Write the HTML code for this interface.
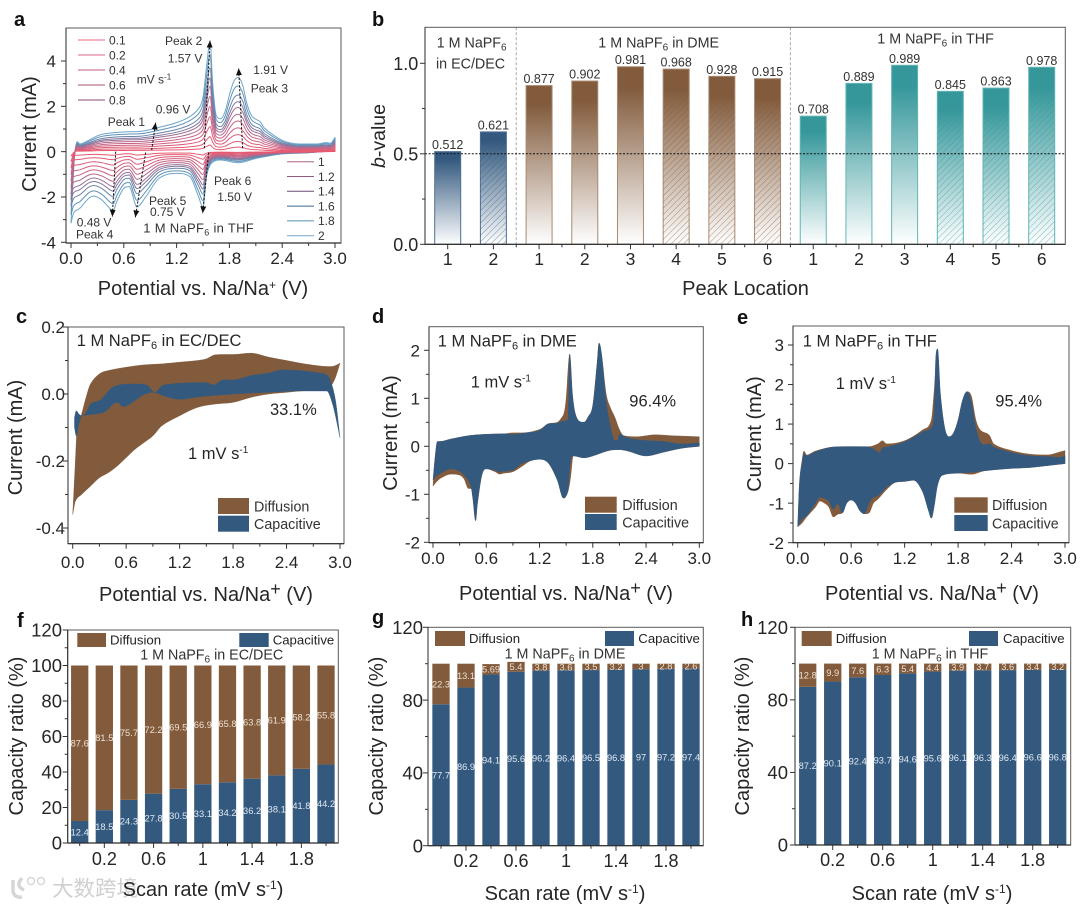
<!DOCTYPE html>
<html lang="en">
<head>
<meta charset="utf-8">
<title>Sodium electrolyte CV and capacity analysis</title>
<style>
  html, body { margin: 0; padding: 0; background: #fff; }
  svg { display: block; }
  text { font-family: "Liberation Sans", "Noto Sans CJK SC", sans-serif; fill: #262626; }
  .ax { font-size: 20px; }
  .pl { font-size: 20px; font-weight: bold; fill: #111; }
  .an { font-size: 12px; fill: #333; }
  .ti { font-size: 16.5px; }
  .tf { font-size: 14.3px; fill: #333; }
  .lg { font-size: 14.3px; fill: #333; }
  .ls { font-size: 13.2px; fill: #222; }
</style>
</head>
<body>
<svg id="figure" xmlns="http://www.w3.org/2000/svg" width="1080" height="908" viewBox="0 0 1080 908">
  <defs>
    <linearGradient id="grad-blue" x1="0" y1="0" x2="0" y2="1"><stop offset="0" stop-color="#34597f"/><stop offset="0.08" stop-color="#34597f"/><stop offset="1" stop-color="#ffffff"/></linearGradient>
    <linearGradient id="grad-brown" x1="0" y1="0" x2="0" y2="1"><stop offset="0" stop-color="#825b3c"/><stop offset="0.12" stop-color="#825b3c"/><stop offset="1" stop-color="#ffffff"/></linearGradient>
    <linearGradient id="grad-teal" x1="0" y1="0" x2="0" y2="1"><stop offset="0" stop-color="#35979a"/><stop offset="0.12" stop-color="#35979a"/><stop offset="1" stop-color="#ffffff"/></linearGradient>
    <pattern id="hatch-blue" patternUnits="userSpaceOnUse" width="4.4" height="4.4" patternTransform="rotate(45)"><line x1="0" y1="0" x2="0" y2="4.4" stroke="#34597f" stroke-width="0.9"/></pattern>
    <pattern id="hatch-brown" patternUnits="userSpaceOnUse" width="4.4" height="4.4" patternTransform="rotate(45)"><line x1="0" y1="0" x2="0" y2="4.4" stroke="#825b3c" stroke-width="0.9"/></pattern>
    <pattern id="hatch-teal" patternUnits="userSpaceOnUse" width="4.4" height="4.4" patternTransform="rotate(45)"><line x1="0" y1="0" x2="0" y2="4.4" stroke="#35979a" stroke-width="0.9"/></pattern>
    <marker id="arrow-head" markerUnits="userSpaceOnUse" markerWidth="8" markerHeight="6" refX="7" refY="3" orient="auto"><path d="M0,0 L7,3 L0,6 Z" fill="#111"/></marker>
  </defs>
  <rect width="1080" height="908" fill="#ffffff"/>

  <!-- Watermark -->
  <g opacity="0.85">
    <path d="M13 880 L13 892 Q15 898 22 897 M22 878 Q15 886 24 890" fill="none" stroke="#d0d0d0" stroke-width="3.5"/>
    <circle cx="31" cy="881" r="3.5" fill="none" stroke="#d0d0d0" stroke-width="1.5"/>
    <circle cx="41" cy="881" r="3.5" fill="none" stroke="#d0d0d0" stroke-width="1.5"/>
    <text x="52" y="896" font-size="21.5" style="fill:#c8c8c8">大数跨境</text>
  </g>

  <!-- Panel a -->
  <g id="panel-a">
    <g id="a-plot"></g>
    <text class="pl" x="14" y="26">a</text>
    <text class="ax" x="203" y="295" text-anchor="middle">Potential vs. Na/Na<tspan dy="-6" font-size="12">+</tspan><tspan dy="6"> (V)</tspan></text>
    <text class="ax" text-anchor="middle" transform="translate(36,134) rotate(-90)">Current (mA)</text>
    <text class="an" x="165" y="45">Peak 2</text>
    <text class="an" x="167.7" y="62.3">1.57 V</text>
    <text class="an" x="253.3" y="74">1.91 V</text>
    <text class="an" x="250.7" y="92.7">Peak 3</text>
    <text class="an" x="155.7" y="113.3">0.96 V</text>
    <text class="an" x="107.7" y="126">Peak 1</text>
    <text class="an" x="136.7" y="83.3">mV s<tspan dy="-4" font-size="8">-1</tspan></text>
    <text class="an" x="214" y="185">Peak 6</text>
    <text class="an" x="217.3" y="201">1.50 V</text>
    <text class="an" x="149" y="205">Peak 5</text>
    <text class="an" x="150" y="216">0.75 V</text>
    <text class="an" x="76.7" y="226.7">0.48 V</text>
    <text class="an" x="76" y="238.3">Peak 4</text>
    <text class="an" x="143.3" y="232.3" style="font-size:13px" letter-spacing="0.3">1 M NaPF<tspan dy="3" font-size="9">6</tspan><tspan dy="-3"> in THF</tspan></text>
  </g>

  <!-- Panel b -->
  <g id="panel-b">
    <g id="b-plot"></g>
    <text class="pl" x="372" y="26">b</text>
    <text x="745.5" y="295" text-anchor="middle" font-size="20">Peak Location</text>
    <text transform="translate(385,136) rotate(-90)" text-anchor="middle" font-size="19.5"><tspan font-style="italic">b</tspan>-value</text>
    <text class="tf" x="436.7" y="47.7">1 M NaPF<tspan dy="3" font-size="10">6</tspan></text>
    <text class="tf" x="436" y="68.3">in EC/DEC</text>
    <text class="tf" x="598.3" y="47.7">1 M NaPF<tspan dy="3" font-size="10">6</tspan><tspan dy="-3"> in DME</tspan></text>
    <text class="tf" x="877.3" y="43.3">1 M NaPF<tspan dy="3" font-size="10">6</tspan><tspan dy="-3"> in THF</tspan></text>
  </g>

  <!-- Panel c -->
  <g id="panel-c">
    <g id="c-plot"></g>
    <text class="pl" x="16" y="323">c</text>
    <text class="ax" x="206" y="601" text-anchor="middle">Potential vs. Na/Na<tspan dy="-6" font-size="18">+</tspan><tspan dy="6"> (V)</tspan></text>
    <text class="ax" text-anchor="middle" transform="translate(22,437.5) rotate(-90)">Current (mA)</text>
    <text class="ti" x="76.7" y="346">1 M NaPF<tspan dy="3" font-size="11">6</tspan><tspan dy="-3"> in EC/DEC</tspan></text>
    <text class="ti" x="270" y="415">33.1%</text>
    <text class="ti" x="188" y="459">1 mV s<tspan dy="-6" font-size="10">-1</tspan></text>
    <rect x="218" y="498" width="31" height="16" fill="#825b3c"/>
    <rect x="218" y="515.7" width="31" height="16" fill="#34597f"/>
    <text class="lg" x="254" y="511.7">Diffusion</text>
    <text class="lg" x="254" y="529">Capacitive</text>
  </g>

  <!-- Panel d -->
  <g id="panel-d">
    <g id="d-plot"></g>
    <text class="pl" x="372" y="323">d</text>
    <text class="ax" x="566" y="600" text-anchor="middle">Potential vs. Na/Na<tspan dy="-6" font-size="18">+</tspan><tspan dy="6"> (V)</tspan></text>
    <text class="ax" text-anchor="middle" transform="translate(397,433) rotate(-90)">Current (mA)</text>
    <text class="ti" x="437.7" y="346.7">1 M NaPF<tspan dy="3" font-size="11">6</tspan><tspan dy="-3"> in DME</tspan></text>
    <text class="ti" x="470.7" y="387.7">1 mV s<tspan dy="-6" font-size="10">-1</tspan></text>
    <text class="ti" x="629.3" y="406.7">96.4%</text>
    <rect x="585" y="496.7" width="31.7" height="16" fill="#825b3c"/>
    <rect x="585" y="514" width="31.7" height="16" fill="#34597f"/>
    <text class="lg" x="622.3" y="510">Diffusion</text>
    <text class="lg" x="622.3" y="527.3">Capacitive</text>
  </g>

  <!-- Panel e -->
  <g id="panel-e">
    <g id="e-plot"></g>
    <text class="pl" x="737" y="324">e</text>
    <text class="ax" x="932" y="600" text-anchor="middle">Potential vs. Na/Na<tspan dy="-6" font-size="18">+</tspan><tspan dy="6"> (V)</tspan></text>
    <text class="ax" text-anchor="middle" transform="translate(761,434) rotate(-90)">Current (mA)</text>
    <text class="ti" x="802.7" y="346.7">1 M NaPF<tspan dy="3" font-size="11">6</tspan><tspan dy="-3"> in THF</tspan></text>
    <text class="ti" x="835.7" y="389">1 mV s<tspan dy="-6" font-size="10">-1</tspan></text>
    <text class="ti" x="995.3" y="406.7">95.4%</text>
    <rect x="954.3" y="497.3" width="33.4" height="15.4" fill="#825b3c"/>
    <rect x="954.3" y="515" width="33.4" height="16" fill="#34597f"/>
    <text class="lg" x="992" y="510">Diffusion</text>
    <text class="lg" x="992" y="528.3">Capacitive</text>
  </g>

  <!-- Panel f -->
  <g id="panel-f">
    <g id="f-plot"></g>
    <text class="pl" x="17" y="627">f</text>
    <text class="ax" x="203" y="896" text-anchor="middle">Scan rate (mV s<tspan dy="-7" font-size="12">-1</tspan><tspan dy="7">)</tspan></text>
    <text class="ax" text-anchor="middle" transform="translate(23,736) rotate(-90)">Capacity ratio (%)</text>
    <rect x="77.3" y="633" width="28.7" height="14" fill="#825b3c"/>
    <rect x="239.3" y="633" width="29.4" height="14" fill="#34597f"/>
    <text class="ls" x="110" y="644.7">Diffusion</text>
    <text class="ls" x="272.7" y="644.7">Capacitive</text>
    <text class="tf" x="211.7" y="659.7" text-anchor="middle">1 M NaPF<tspan dy="3" font-size="10">6</tspan><tspan dy="-3"> in EC/DEC</tspan></text>
  </g>

  <!-- Panel g -->
  <g id="panel-g">
    <g id="g-plot"></g>
    <text class="pl" x="372" y="624">g</text>
    <text class="ax" x="565" y="900" text-anchor="middle">Scan rate (mV s<tspan dy="-7" font-size="12">-1</tspan><tspan dy="7">)</tspan></text>
    <text class="ax" text-anchor="middle" transform="translate(383,736) rotate(-90)">Capacity ratio (%)</text>
    <rect x="435" y="631" width="30" height="15" fill="#825b3c"/>
    <rect x="605" y="631" width="29" height="15" fill="#34597f"/>
    <text class="ls" x="469" y="643">Diffusion</text>
    <text class="ls" x="638.3" y="643">Capacitive</text>
    <text class="tf" x="565" y="658.7" text-anchor="middle">1 M NaPF<tspan dy="3" font-size="10">6</tspan><tspan dy="-3"> in DME</tspan></text>
  </g>

  <!-- Panel h -->
  <g id="panel-h">
    <g id="h-plot"></g>
    <text class="pl" x="741" y="626">h</text>
    <text class="ax" x="932" y="900" text-anchor="middle">Scan rate (mV s<tspan dy="-7" font-size="12">-1</tspan><tspan dy="7">)</tspan></text>
    <text class="ax" text-anchor="middle" transform="translate(749,736) rotate(-90)">Capacity ratio (%)</text>
    <rect x="801.7" y="631" width="30" height="15" fill="#825b3c"/>
    <rect x="969" y="631" width="29" height="15" fill="#34597f"/>
    <text class="ls" x="835.7" y="643">Diffusion</text>
    <text class="ls" x="1003" y="643">Capacitive</text>
    <text class="tf" x="930" y="658.7" text-anchor="middle">1 M NaPF<tspan dy="3" font-size="10">6</tspan><tspan dy="-3"> in THF</tspan></text>
  </g>
</svg>

<script>
// ---------- Panel a data ----------
const aScanRates = ['0.1','0.2','0.4','0.6','0.8','1','1.2','1.4','1.6','1.8','2'];
const aPeak3Current = [0.2,0.45,0.75,1.05,1.35,1.65,1.95,2.2,2.5,2.9,3.28];
const aUpperV = [0,.02,.04,.07,.1,.2,.3,.4,.6,.8,1,1.2,1.35,1.45,1.5,1.54,1.58,1.61,1.65,1.7,1.75,1.8,1.85,1.9,1.95,2,2.05,2.1,2.15,2.2,2.4,2.6,2.8,2.9,2.95,3];
const aUpperI = [-3.16,-1.5,-.2,.44,.34,.5,.7,.8,.87,.9,1.07,1.28,1.55,1.9,2.4,3.75,4.85,3,1.6,1.45,1.76,2.5,3.1,3.28,2.94,2.1,1.6,1.43,1.32,1.03,.5,.34,.34,.4,.37,.63];
const aLowerV = [3,2.7,2.4,2.1,1.9,1.7,1.6,1.54,1.5,1.45,1.35,1.2,1,.85,.75,.66,.6,.52,.48,.45,.35,.26,.2,.1,.03,0];
const aLowerI = [.07,-.05,-.1,-.3,-.49,-.37,-.49,-1.1,-2.46,-1.99,-1.1,-.96,-1.18,-1.99,-2.43,-1.54,-1.62,-2.2,-2.6,-2.54,-2.13,-1.96,-2.06,-2.5,-2.7,-3.16];
const aArrowStartV = [.917,1.515,1.95,.508,.848,1.564];
const aArrowStartI = [.07,.15,.15,0,-.04,-.04];
const aArrowEndV = [.962,1.58,1.905,.47,.731,1.496];
const aArrowEndI = [1.28,4.9,3.68,-2.87,-2.9,-2.72];
const aXTickLabels = ['0.0','0.6','1.2','1.8','2.4','3.0'];
const aYTickLabels = ['-4','-2','0','2','4'];

// ---------- Panel b data ----------
const bCategories = ['1','2','1','2','3','4','5','6','1','2','3','4','5','6'];
const bValues = [0.512,0.621,0.877,0.902,0.981,0.968,0.928,0.915,0.708,0.889,0.989,0.845,0.863,0.978];
const bLabels = ['0.512','0.621','0.877','0.902','0.981','0.968','0.928','0.915','0.708','0.889','0.989','0.845','0.863','0.978'];
const bGroup = ['blue','blue','brown','brown','brown','brown','brown','brown','teal','teal','teal','teal','teal','teal'];
const bHatched = [0,1,0,0,0,1,1,1,0,0,0,1,1,1];
const bYTickLabels = ['0.0','0.5','1.0'];
const bReference = 0.5;

// ---------- Panel c data ----------
const cDiffTopV = [0,.03,.05,.1,.15,.2,.3,.4,.6,.8,1,1.2,1.4,1.5,1.6,1.7,1.8,2,2.2,2.4,2.6,2.8,2.9,2.95,3];
const cDiffTopI = [-.36,-.2,-.1,-.06,-.01,.03,.06,.07,.08,.087,.09,.095,.1,.105,.117,.118,.118,.122,.11,.1,.09,.083,.082,.085,.092];
const cDiffBotV = [0,.03,.1,.2,.3,.4,.5,.6,.7,.8,.9,1,1.2,1.4,1.6,1.8,2,2.2,2.4,2.6,2.8,2.9,2.95,3];
const cDiffBotI = [-.36,-.32,-.3,-.275,-.25,-.235,-.215,-.19,-.165,-.145,-.125,-.095,-.065,-.04,-.03,-.025,-.01,0,.005,.01,.012,.025,.05,.092];
const cCapTopV = [.02,.04,.07,.1,.15,.2,.31,.46,.68,.83,.92,1.02,1.5,1.58,1.69,1.8,2,2.19,2.36,2.55,2.74,2.85,2.89,2.95,3];
const cCapTopI = [-.07,-.05,-.06,-.065,-.055,-.03,-.018,.022,.03,.027,.005,.027,.034,.027,.042,.042,.055,.062,.072,.07,.064,.057,.042,-.02,-.13];
const cCapBotV = [.02,.04,.07,.1,.15,.3,.38,.44,.5,.57,.68,.79,.9,1.05,1.2,1.43,1.8,2.18,2.55,2.85,2.92,3];
const cCapBotI = [-.1,-.125,-.09,-.065,-.063,-.058,-.05,-.033,-.025,-.038,-.023,-.003,.005,-.008,-.016,-.008,0,.005,.009,.009,-.033,-.13];
const cXTickLabels = ['0.0','0.6','1.2','1.8','2.4','3.0'];
const cYTickLabels = ['-0.4','-0.2','0.0','0.2'];

// ---------- Panel d data ----------
const dDiffTopV = [0,.02,.05,.08,.2,.4,.6,.8,.9,1,1.2,1.3,1.4,1.45,1.48,1.5,1.54,1.57,1.6,1.65,1.7,1.75,1.8,1.85,1.87,1.9,1.95,2,2.05,2.1,2.15,2.3,2.5,2.7,3];
const dDiffTopI = [-.83,-.3,.1,.1,.15,.22,.25,.26,.28,.28,.35,.47,.5,.6,.72,1,1.92,1.1,.7,.52,.5,.62,.85,1.75,2.15,1.9,1.1,.8,.6,.35,.22,.2,.24,.22,.2];
const dCapTopV = [0,.02,.05,.08,.2,.4,.6,.8,.9,1,1.2,1.3,1.4,1.45,1.52,1.54,1.57,1.6,1.65,1.7,1.75,1.8,1.85,1.87,1.9,1.95,2,2.05,2.08,2.1,2.2,2.4,2.6,2.8,3];
const dCapTopI = [-.7,-.3,.1,.1,.15,.22,.25,.26,.25,.27,.33,.47,.48,.52,.55,1.92,1.1,.7,.52,.5,.62,.85,1.75,2.15,1.9,.95,.4,.12,.12,.25,.17,.12,.1,.05,.07];
const dBotV = [0,.05,.1,.2,.3,.35,.4,.43,.45,.48,.5,.55,.6,.7,.75,.8,.9,1,1.1,1.2,1.3,1.4,1.47,1.52,1.55,1.58,1.7,1.8,2,2.1,2.2,2.4,2.6,2.8,3];
const dDiffBotI = [-.83,-.72,-.65,-.58,-.6,-.68,-.88,-.88,-1.1,-1.55,-1.2,-.6,-.47,-.53,-.58,-.56,-.53,-.42,-.3,-.27,-.35,-.7,-1.08,-.95,-.65,-.2,-.24,-.2,-.08,-.07,-.1,-.2,-.12,-.04,0];
const dCapBotI = [-.7,-.6,-.55,-.47,-.52,-.6,-.72,-.85,-1.1,-1.55,-1.2,-.6,-.47,-.5,-.54,-.52,-.5,-.36,-.3,-.27,-.35,-.7,-1.08,-.9,-.3,-.2,-.24,-.2,-.08,-.07,-.1,-.2,-.12,-.04,0];
const dXTickLabels = ['0.0','0.6','1.2','1.8','2.4','3.0'];
const dYTickLabels = ['-2','-1','0','1','2'];

// ---------- Panel e data ----------
const eDiffTopV = [0,.02,.05,.07,.1,.2,.4,.6,.8,.9,.95,1,1.2,1.4,1.5,1.53,1.57,1.6,1.65,1.7,1.75,1.8,1.85,1.9,1.95,2,2.05,2.15,2.2,2.4,2.6,2.8,2.95,3];
const eDiffTopI = [-1.6,-.5,.1,.32,.22,.32,.42,.43,.43,.5,.58,.5,.58,.85,1.1,1.8,2.9,1.8,.9,.68,.78,1.1,1.6,1.82,1.7,1.1,.85,.72,.5,.33,.24,.22,.3,.33];
const eCapTopV = [0,.02,.05,.07,.1,.2,.4,.6,.8,.9,.92,.95,1,1.2,1.4,1.5,1.53,1.55,1.57,1.6,1.65,1.7,1.75,1.8,1.85,1.9,1.95,2,2.05,2.1,2.15,2.2,2.4,2.6,2.8,2.95,3];
const eCapTopI = [-1.6,-.5,.05,.26,.2,.3,.42,.43,.42,.3,.28,.4,.42,.55,.8,.92,1.2,2.7,2.9,1.8,.9,.68,.78,1.1,1.6,1.82,1.55,.9,.55,.48,.5,.42,.28,.2,.18,.16,.2];
const eBotV = [0,.05,.1,.2,.25,.3,.35,.4,.45,.5,.55,.6,.65,.7,.75,.8,.85,.9,1,1.1,1.2,1.3,1.4,1.47,1.5,1.53,1.57,1.62,1.8,1.95,2.1,2.4,2.6,2.8,3];
const eDiffBotI = [-1.6,-1.5,-1.35,-1.1,-.95,-1,-1.1,-1.35,-1.28,-1.25,-1,-.92,-1,-1.2,-1.27,-1.25,-1,-.9,-.65,-.47,-.45,-.42,-.7,-1.2,-1.38,-1.1,-.45,-.25,-.24,-.27,-.18,-.12,-.1,-.05,0];
const eCapBotI = [-1.6,-1.4,-1.32,-1,-.85,-.88,-.95,-1.15,-1.02,-1.25,-1,-.92,-1,-1.2,-1.27,-1,-.85,-.82,-.6,-.47,-.45,-.42,-.7,-1.2,-1.38,-1.1,-.55,-.3,-.24,-.22,-.18,-.12,-.1,-.05,0];
const eXTickLabels = ['0.0','0.6','1.2','1.8','2.4','3.0'];
const eYTickLabels = ['-2','-1','0','1','2','3'];

// ---------- Panels f, g, h data ----------
const rateCategories = ['0.1','0.2','0.4','0.6','0.8','1','1.2','1.4','1.6','1.8','2'];
const rateTickLabels = ['','0.2','','0.6','','1','','1.4','','1.8',''];
const fCapacitive = [12.4,18.5,24.3,27.8,30.5,33.1,34.2,36.2,38.1,41.8,44.2];
const fDiffusion = [87.6,81.5,75.7,72.2,69.5,66.9,65.8,63.8,61.9,58.2,55.8];
const gCapacitive = [77.7,86.9,94.1,95.6,96.2,96.4,96.5,96.8,97,97.2,97.4];
const gDiffusion = [22.3,13.1,5.69,5.4,3.8,3.6,3.5,3.2,3,2.8,2.6];
const hCapacitive = [87.2,90.1,92.4,93.7,94.6,95.6,96.1,96.3,96.4,96.6,96.8];
const hDiffusion = [12.8,9.9,7.6,6.3,5.4,4.4,3.9,3.7,3.6,3.4,3.2];
const fYTickLabels = ['0','20','40','60','80','100','120'];
const gYTickLabels = ['0','40','80','120'];
const hYTickLabels = ['0','40','80','120'];

// ---------- Style lookups ----------
const aLineColors = ['#e8586f','#e25a74','#da5c79','#d1607f','#c76485','#b56a8c','#9c7095','#82789e','#6a84aa','#5f92b8','#6ea6cb'];
const aLegendColors = ['#e8657c','#e0688a','#c25c80','#a55274','#8a4a70','#a9647f','#8e5a80','#6c4c76','#3b6690','#5590b5','#70a8ca'];
const BLUE = '#34597f';
const BROWN = '#825b3c';
const bStrokes = { blue: '#4d6f94', brown: '#a98a72', teal: '#62b5b5' };

// ---------- Helpers ----------
const SVGNS = 'http://www.w3.org/2000/svg';
function linear(d0, d1, r0, r1) {
  return function (v) { return r0 + (v - d0) * (r1 - r0) / (d1 - d0); };
}
function mk(tag, parent, attrs) {
  const el = document.createElementNS(SVGNS, tag);
  for (const k in attrs) { el.setAttribute(k, attrs[k]); }
  parent.appendChild(el);
  return el;
}
function label(parent, str, x, y, size, anchor, fill) {
  const el = mk('text', parent, { x: x, y: y, 'font-size': size, 'text-anchor': anchor });
  if (fill) { el.style.fill = fill; }
  el.textContent = str;
  return el;
}
function tickLine(parent, x1, y1, x2, y2) {
  return mk('line', parent, { x1: x1, y1: y1, x2: x2, y2: y2, stroke: '#333', 'stroke-width': 1 });
}
function drawFrame(parent, f) {
  const el = mk('rect', parent, { x: f.l, y: f.t, width: f.r - f.l, height: f.b - f.t, fill: 'none', stroke: '#5a5a5a', 'stroke-width': 1 });
  
  
  const base = mk('line', parent, { x1: f.l, y1: f.b, x2: f.r, y2: f.b, stroke: '#2a2a2a', 'stroke-width': 1.2 });
  
  
  const left = mk('line', parent, { x1: f.l, y1: f.t, x2: f.l, y2: f.b, stroke: '#2a2a2a', 'stroke-width': 1 });
  
  
}
function drawYAxis(parent, f, y, labels, opts) {
  const vals = labels.map(Number);
  labels.forEach(function (t, i) {
    const py = y(vals[i]);
    const tk = tickLine(parent, f.l - 5, py, f.l, py);
    
    
    const tx = label(parent, t, opts.labelX, py + opts.size * 0.36, opts.size, 'end');
    
    
    if (i < vals.length - 1) {
      const mid = y((vals[i] + vals[i + 1]) / 2);
      const mt = tickLine(parent, f.l - 3, mid, f.l, mid);
      
      
    }
  });
}
function drawXAxisNumeric(parent, f, x, labels, baseline, size) {
  const vals = labels.map(Number);
  labels.forEach(function (t, i) {
    const px = x(vals[i]);
    const tk = tickLine(parent, px, f.b, px, f.b + 5);
    
    
    const tx = label(parent, t, px, baseline, size, 'middle');
    
    
    if (i < vals.length - 1) {
      const mid = x((vals[i] + vals[i + 1]) / 2);
      const mt = tickLine(parent, mid, f.b, mid, f.b + 3);
      
      
    }
  });
}
// Monotone cubic through the series' points, drawn through the axis functions.
function curveSegments(x, y, vs, is) {
  const n = Math.min(vs.length, is.length);
  const px = [], py = [];
  for (let i = 0; i < n; i++) { px.push(x(vs[i])); py.push(y(is[i])); }
  const s = [];
  for (let i = 0; i < n - 1; i++) { s.push((py[i + 1] - py[i]) / (px[i + 1] - px[i])); }
  const t = [];
  for (let i = 0; i < n; i++) {
    if (i === 0) { t.push(s[0]); continue; }
    if (i === n - 1) { t.push(s[n - 2]); continue; }
    if (s[i - 1] * s[i] <= 0) { t.push(0); continue; }
    const raw = (py[i + 1] - py[i - 1]) / (px[i + 1] - px[i - 1]);
    const cap = 3 * Math.min(Math.abs(s[i - 1]), Math.abs(s[i]));
    t.push(Math.sign(raw) * Math.min(Math.abs(raw), cap));
  }
  let d = '';
  for (let i = 0; i < n - 1; i++) {
    const h = (px[i + 1] - px[i]) / 3;
    d += 'C' + (px[i] + h).toFixed(2) + ',' + (py[i] + t[i] * h).toFixed(2) + ' ' +
         (px[i + 1] - h).toFixed(2) + ',' + (py[i + 1] - t[i + 1] * h).toFixed(2) + ' ' +
         px[i + 1].toFixed(2) + ',' + py[i + 1].toFixed(2);
  }
  return d;
}
function pt(x, y, v, i) { return x(v).toFixed(2) + ',' + y(i).toFixed(2); }
function bandPath(x, y, topV, topI, botV, botI) {
  const rv = botV.slice().reverse();
  const ri = botI.slice().reverse();
  return 'M' + pt(x, y, topV[0], topI[0]) + curveSegments(x, y, topV, topI) +
         'L' + pt(x, y, rv[0], ri[0]) + curveSegments(x, y, rv, ri) + 'Z';
}

// ---------- Panel a ----------
(function () {
  const g = document.getElementById('a-plot');
  const f = { l: 66, r: 341, t: 28, b: 243 };
  const x = linear(0, 3, 71, 335);
  const y = linear(-4, 4, 242.3, 61);
  const maxPeak = Math.max.apply(null, aPeak3Current);
  for (let i = aScanRates.length - 1; i >= 0; i--) {
    const factor = aPeak3Current[i] / maxPeak;
    const up = aUpperI.map(function (v) { return v * factor; });
    const low = aLowerI.map(function (v) { return v * factor; });
    const d = 'M' + pt(x, y, aUpperV[0], up[0]) + curveSegments(x, y, aUpperV, up) +
              'L' + pt(x, y, aLowerV[0], low[0]) + curveSegments(x, y, aLowerV, low);
    const p = mk('path', g, { d: d, fill: 'none', stroke: aLineColors[i], 'stroke-width': 1, 'stroke-linejoin': 'round' });
    
    
  }
  aArrowStartV.forEach(function (v, i) {
    const a = mk('line', g, { x1: x(v), y1: y(aArrowStartI[i]), x2: x(aArrowEndV[i]), y2: y(aArrowEndI[i]), stroke: '#111', 'stroke-width': 1, 'stroke-dasharray': '2.2 1.6', 'marker-end': 'url(#arrow-head)' });
    
    
  });
  drawFrame(g, f);
  drawXAxisNumeric(g, f, x, aXTickLabels, 264, 17);
  drawYAxis(g, f, y, aYTickLabels, { labelX: 56, size: 17 });
  aScanRates.forEach(function (rate, i) {
    const isLeft = i < 5;
    const ly = isLeft ? 40 + 15 * i : 161.7 + 14.8 * (i - 5);
    const x0 = isLeft ? 78 : 287;
    const ln = mk('line', g, { x1: x0, y1: ly, x2: x0 + 27, y2: ly, stroke: aLegendColors[i], 'stroke-width': 1 });
    
    
    const lt = label(g, rate, x0 + 31, ly + 4.3, 12, 'start', '#333');
    
    
  });
})();

// ---------- Panel b ----------
(function () {
  const g = document.getElementById('b-plot');
  const f = { l: 425, r: 1065.3, t: 27.3, b: 244.3 };
  const x = linear(0, 13, 447.7, 1041.7);
  const y = linear(0, 1, 244.3, 63.3);
  const barW = 26;
  bValues.forEach(function (v, i) {
    const color = bGroup[i];
    const top = y(v);
    const r = mk('rect', g, { x: x(i) - barW / 2, y: top, width: barW, height: y(0) - top, fill: 'url(#grad-' + color + ')', stroke: bStrokes[color], 'stroke-width': 1 });
    
    
    if (bHatched[i]) {
      const h = mk('rect', g, { x: x(i) - barW / 2, y: top, width: barW, height: y(0) - top, fill: 'url(#hatch-' + color + ')', opacity: 0.7 });
      
      
    }
    const t = label(g, bLabels[i], x(i), top - 2.5, 12.5, 'middle', '#333');
    
    
    const tk = tickLine(g, x(i), f.b, x(i), f.b + 5);
    
    
    const tl = label(g, bCategories[i], x(i), 265, 17.5, 'middle');
    
    
    if (i < bValues.length - 1) {
      const mt = tickLine(g, x(i + 0.5), f.b, x(i + 0.5), f.b + 3);
      
      
    }
  });
  [1.5, 7.5].forEach(function (pos) {
    const s = mk('line', g, { x1: x(pos), y1: f.t, x2: x(pos), y2: f.b, stroke: '#a8a8a8', 'stroke-width': 1, 'stroke-dasharray': '3 2' });
    
    
  });
  const ref = mk('line', g, { x1: f.l, y1: y(bReference), x2: f.r, y2: y(bReference), stroke: '#111', 'stroke-width': 1, 'stroke-dasharray': '2 1.6' });
  
  
  drawFrame(g, f);
  drawYAxis(g, f, y, bYTickLabels, { labelX: 418.3, size: 18 });
})();

// ---------- Panels c, d, e ----------
function drawBand(g, x, y, topV, topI, botV, botI, fill, name) {
  const p = mk('path', g, { d: bandPath(x, y, topV, topI, botV, botI), fill: fill, stroke: fill, 'stroke-width': 0.4 });
  
  
}
(function () {
  const g = document.getElementById('c-plot');
  const f = { l: 68, r: 344, t: 327, b: 543.7 };
  const x = linear(0, 3, 72.7, 340);
  const y = linear(-0.4, 0.2, 528, 327);
  drawBand(g, x, y, cDiffTopV, cDiffTopI, cDiffBotV, cDiffBotI, BROWN, 'diffusion-area');
  drawBand(g, x, y, cCapTopV, cCapTopI, cCapBotV, cCapBotI, BLUE, 'capacitive-area');
  drawFrame(g, f);
  drawXAxisNumeric(g, f, x, cXTickLabels, 568, 17);
  drawYAxis(g, f, y, cYTickLabels, { labelX: 65, size: 17 });
})();
(function () {
  const g = document.getElementById('d-plot');
  const f = { l: 429, r: 703.3, t: 326.7, b: 542.7 };
  const x = linear(0, 3, 433, 699.3);
  const y = linear(-2, 2, 542.3, 350.3);
  drawBand(g, x, y, dDiffTopV, dDiffTopI, dBotV, dDiffBotI, BROWN, 'diffusion-area');
  drawBand(g, x, y, dCapTopV, dCapTopI, dBotV, dCapBotI, BLUE, 'capacitive-area');
  drawFrame(g, f);
  drawXAxisNumeric(g, f, x, dXTickLabels, 564, 17);
  drawYAxis(g, f, y, dYTickLabels, { labelX: 420, size: 17 });
})();
(function () {
  const g = document.getElementById('e-plot');
  const f = { l: 793, r: 1069, t: 326, b: 542.7 };
  const x = linear(0, 3, 797.7, 1065);
  const y = linear(-2, 3, 542.7, 345);
  drawBand(g, x, y, eDiffTopV, eDiffTopI, eBotV, eDiffBotI, BROWN, 'diffusion-area');
  drawBand(g, x, y, eCapTopV, eCapTopI, eBotV, eCapBotI, BLUE, 'capacitive-area');
  drawFrame(g, f);
  drawXAxisNumeric(g, f, x, eXTickLabels, 564, 17);
  drawYAxis(g, f, y, eYTickLabels, { labelX: 784, size: 17 });
})();

// ---------- Panels f, g, h ----------
function drawStack(g, f, x, y, cap, diff, barW, tickBaseline, yLabels, yLabelX) {
  rateCategories.forEach(function (cat, i) {
    const c = cap[i];
    const d = diff[i];
    const capBar = mk('rect', g, { x: x(i) - barW / 2, y: y(c), width: barW, height: y(0) - y(c), fill: BLUE });
    
    
    const diffBar = mk('rect', g, { x: x(i) - barW / 2, y: y(c + d), width: barW, height: y(c) - y(c + d), fill: BROWN });
    
    
    const cl = label(g, String(c), x(i), y(c / 2) + 3.3, 9.3, 'middle', '#dfe8f2');
    
    
    const dl = label(g, String(d), x(i), y(c + d / 2) + 3.3, 9.3, 'middle', '#eee0d2');
    
    
    const major = rateTickLabels[i] !== '';
    const tk = tickLine(g, x(i), f.b, x(i), f.b + (major ? 5 : 3));
    
    
    if (major) {
      const tl = label(g, rateTickLabels[i], x(i), tickBaseline, 18, 'middle');
      
      
    }
  });
  drawFrame(g, f);
  drawYAxis(g, f, y, yLabels, { labelX: yLabelX, size: 18.5 });
}
(function () {
  const g = document.getElementById('f-plot');
  const f = { l: 67.7, r: 338.3, t: 630, b: 843 };
  drawStack(g, f, linear(0, 10, 79.7, 326), linear(0, 120, 843, 630), fCapacitive, fDiffusion, 17.3, 865, fYTickLabels, 62);
})();
(function () {
  const g = document.getElementById('g-plot');
  const f = { l: 428, r: 703.3, t: 627.3, b: 845.7 };
  drawStack(g, f, linear(0, 10, 441, 691), linear(0, 120, 845.7, 627.3), gCapacitive, gDiffusion, 17.3, 867, gYTickLabels, 423);
})();
(function () {
  const g = document.getElementById('h-plot');
  const f = { l: 795, r: 1070.7, t: 627.3, b: 845 };
  drawStack(g, f, linear(0, 10, 807.7, 1057.7), linear(0, 120, 845, 627.3), hCapacitive, hDiffusion, 17.3, 866, hYTickLabels, 788);
})();
</script>
</body>
</html>
